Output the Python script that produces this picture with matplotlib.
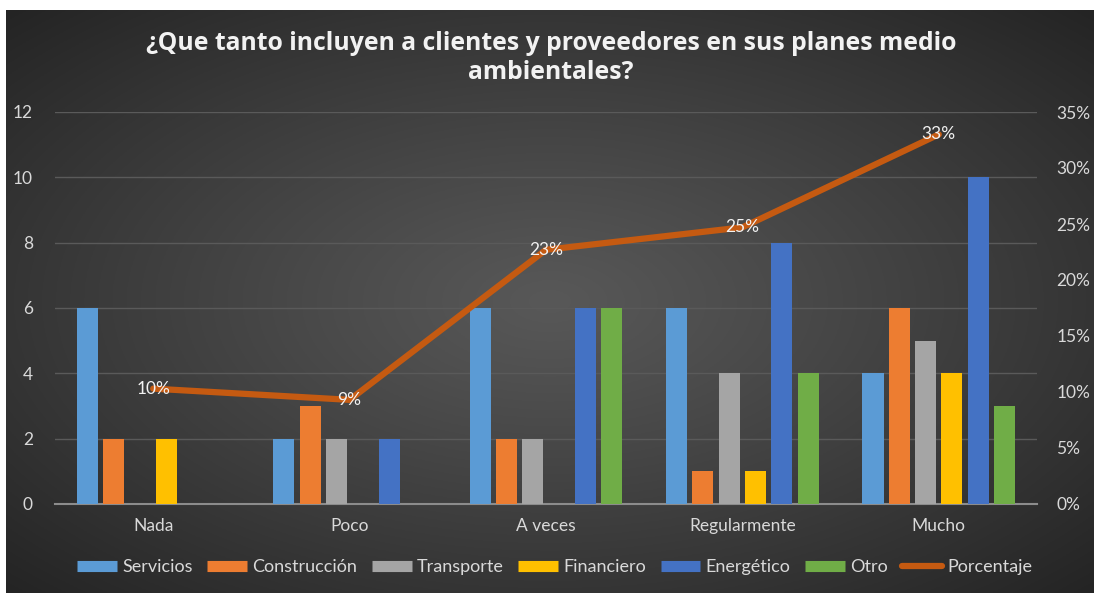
import numpy as np
import matplotlib
matplotlib.use("Agg")
import matplotlib.pyplot as plt
from matplotlib.lines import Line2D
from matplotlib.ticker import FuncFormatter

plt.rcParams["font.family"] = ["Lato", "DejaVu Sans"]

categories = ["Nada", "Poco", "A veces", "Regularmente", "Mucho"]
series_names = ["Servicios", "Construcción", "Transporte", "Financiero", "Energético", "Otro"]
servicios = [6, 2, 6, 6, 4]
construccion = [2, 3, 2, 1, 6]
transporte = [0, 2, 2, 4, 5]
financiero = [2, 0, 0, 1, 4]
energetico = [0, 2, 6, 8, 10]
otro = [0, 0, 6, 4, 3]
porcentaje = [0.103, 0.093, 0.227, 0.247, 0.330]

series = [servicios, construccion, transporte, financiero, energetico, otro]
colors = ["#5B9BD5", "#ED7D31", "#A5A5A5", "#FFC000", "#4472C4", "#70AD47"]
line_color = "#C55A11"
text_color = "#D9D9D9"

fig = plt.figure(figsize=(10.94, 5.93), dpi=100)
fig.patch.set_facecolor("white")

# dark radial-gradient background of the chart area
bg = fig.add_axes([6 / 1094, 0, 1 - 6 / 1094, 1 - 10 / 593])
yy, xx = np.mgrid[-1:1:300j, -1:1:550j]
r = np.sqrt(xx ** 2 + yy ** 2) / np.sqrt(2)
c0 = np.array([0x58, 0x58, 0x58]) / 255
c1 = np.array([0x24, 0x24, 0x24]) / 255
img = c0 + (c1 - c0) * np.clip(r, 0, 1)[..., None] ** 1.1
bg.imshow(img, aspect="auto", extent=[0, 1, 0, 1])
bg.axis("off")

ax = fig.add_axes([55 / 1094, 1 - 504 / 593, (1037 - 55) / 1094, (504 - 112) / 593])
ax.set_facecolor("none")
x = np.arange(len(categories))
pitch = 0.134
width = 0.107
for i, (name, vals, col) in enumerate(zip(series_names, series, colors)):
    ax.bar(x + (i - 2.5) * pitch, vals, width, color=col, label=name, zorder=3)

ax.set_xlim(-0.5, len(categories) - 0.5)
ax.set_ylim(0, 12)
ax.set_yticks(range(0, 13, 2))
ax.set_xticks(x)
ax.set_xticklabels(categories)
ax.yaxis.grid(True, color="#5a5a5a", lw=1)
ax.set_axisbelow(True)
for s in ["top", "right", "left"]:
    ax.spines[s].set_visible(False)
ax.spines["bottom"].set_color("#8c8c8c")
ax.spines["bottom"].set_linewidth(1.5)
ax.tick_params(axis="both", length=0, colors=text_color, labelsize=12.5)
ax.tick_params(axis="y", pad=16)
ax.tick_params(axis="x", pad=10)

ax2 = ax.twinx()
ax2.set_facecolor("none")
ax2.set_ylim(0, 0.35)
ax2.set_yticks(np.arange(0, 0.351, 0.05))
ax2.yaxis.set_major_formatter(FuncFormatter(lambda v, _: f"{v * 100:.0f}%"))
for s in ax2.spines.values():
    s.set_visible(False)
ax2.tick_params(axis="y", length=0, colors=text_color, labelsize=12.5, pad=14)
ax2.plot(x, porcentaje, color=line_color, lw=4.5, solid_capstyle="round", zorder=4)
for xi, p in zip(x, porcentaje):
    ax2.text(xi, p, f"{p * 100:.0f}%", ha="center", va="center",
             color="#F2F2F2", fontsize=12.5, zorder=5)

fig.text(551 / 1094, 1 - 58 / 593,
         "¿Que tanto incluyen a clientes y proveedores en sus planes medio\nambientales?",
         ha="center", va="center", color="#F2F2F2", fontsize=17.8,
         fontweight="bold", family=["Open Sans", "DejaVu Sans"], linespacing=1.25)

handles = [Line2D([0], [0], color=c, lw=8, solid_capstyle="butt") for c in colors]
handles.append(Line2D([0], [0], color=line_color, lw=4.5, solid_capstyle="round"))
labels = series_names + ["Porcentaje"]
fig.legend(handles, labels, loc="center", bbox_to_anchor=(555 / 1094, 1 - 567 / 593),
           ncol=7, frameon=False, fontsize=13, labelcolor=text_color,
           handlelength=2.2, handletextpad=0.3, columnspacing=0.8)

fig.savefig("out.png", dpi=100, facecolor=fig.get_facecolor())
